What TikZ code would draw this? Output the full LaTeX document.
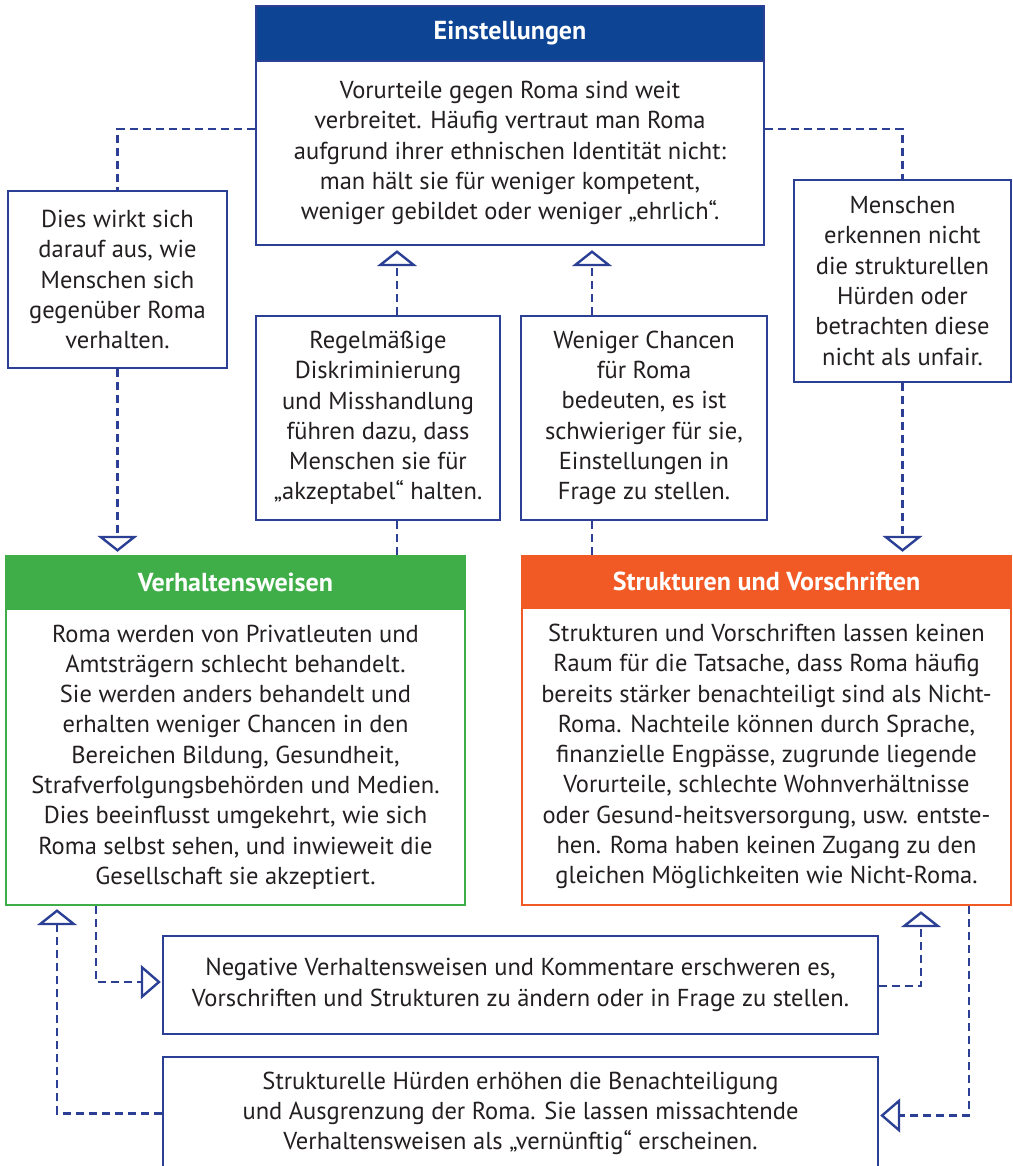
\documentclass[tikz,border=0pt]{standalone}
\usepackage{fontspec}
\setmainfont{PT Sans}
\usetikzlibrary{arrows.meta}
\definecolor{txt}{HTML}{231F20}
\definecolor{lblue}{HTML}{2B3F94}
\definecolor{hblue}{HTML}{0D4594}
\definecolor{hgreen}{HTML}{3FAE49}
\definecolor{horange}{HTML}{F15A24}
\tikzset{
  box/.style={draw=lblue, line width=2.4pt, fill=white, inner sep=0pt, align=center, text=txt,
    font=\fontsize{24.5}{30.3}\selectfont},
  head/.style={inner sep=0pt, align=center, text=white, font=\fontsize{26}{30}\selectfont\bfseries},
  conn/.style={draw=lblue, line width=2.5pt, dash pattern=on 8pt off 5pt},
  tipv/.style={-{Triangle[open, width=40pt, length=16pt, line width=2.4pt]}},
  tiph/.style={-{Triangle[open, width=34pt, length=20pt, line width=2.4pt]}},
}
\begin{document}
\begin{tikzpicture}[x=1pt,y=-1pt]
\useasboundingbox (0,0) rectangle (1012,1166);
\fill[white] (0,0) rectangle (1012,1166);

% Einstellungen
\node[box, minimum width=508pt, minimum height=184pt] (Ebody) at (510,153)
  {Vorurteile gegen Roma sind weit\\ verbreitet. Häufig vertraut man Roma\\ aufgrund ihrer ethnischen Identität nicht:\\ man hält sie für weniger kompetent,\\ weniger gebildet oder weniger „ehrlich“.};
\node[head, fill=hblue, draw=lblue, line width=2.4pt, minimum width=508pt, minimum height=55pt] (Ehead) at (510,33.5) {Einstellungen};

% side boxes
\node[box, minimum width=219pt, minimum height=177pt] (L1) at (117.5,279.5)
  {Dies wirkt sich\\ darauf aus, wie\\ Menschen sich\\ gegenüber Roma\\ verhalten.};
\node[box, minimum width=217pt, minimum height=202pt] (R1) at (902.5,281)
  {Menschen\\ erkennen nicht\\ die strukturellen\\ Hürden oder\\ betrachten diese\\ nicht als unfair.};

% middle boxes
\node[box, minimum width=244pt, minimum height=204pt] (M1) at (378,418)
  {Regelmäßige\\ Diskriminierung\\ und Misshandlung\\ führen dazu, dass\\ Menschen sie für\\ „akzeptabel“ halten.};
\node[box, minimum width=246pt, minimum height=204pt] (M2) at (644,418)
  {Weniger Chancen\\ für Roma\\ bedeuten, es ist\\ schwieriger für sie,\\ Einstellungen in\\ Frage zu stellen.};

% Verhaltensweisen
\node[box, draw=hgreen, minimum width=459pt, minimum height=296pt] (Gbody) at (235.5,757)
  {Roma werden von Privatleuten und\\ Amtsträgern schlecht behandelt.\\ Sie werden anders behandelt und\\ erhalten weniger Chancen in den\\ Bereichen Bildung, Gesundheit,\\ Strafverfolgungsbehörden und Medien.\\ Dies beeinflusst umgekehrt, wie sich\\ Roma selbst sehen, und inwieweit die\\ Gesellschaft sie akzeptiert.};
\node[head, fill=hgreen, minimum width=461pt, minimum height=54pt] (Ghead) at (235.5,582) {Verhaltensweisen};

% Strukturen und Vorschriften
\node[box, draw=horange, minimum width=489pt, minimum height=297pt] (Obody) at (766.5,756.5)
  {Strukturen und Vorschriften lassen keinen\\ Raum für die Tatsache, dass Roma häufig\\ bereits stärker benachteiligt sind als Nicht-\\ Roma. Nachteile können durch Sprache,\\ finanzielle Engpässe, zugrunde liegende\\ Vorurteile, schlechte Wohnverhältnisse\\ oder Gesund-heitsversorgung, usw. entste-\\ hen. Roma haben keinen Zugang zu den\\ gleichen Möglichkeiten wie Nicht-Roma.};
\node[head, fill=horange, minimum width=491pt, minimum height=53pt] (Ohead) at (766.5,581.5) {Strukturen und Vorschriften};

% bottom boxes
\node[box, minimum width=715pt, minimum height=98pt] (Neg) at (520.5,985)
  {Negative Verhaltensweisen und Kommentare erschweren es,\\ Vorschriften und Strukturen zu ändern oder in Frage zu stellen.};
\node[box, minimum width=715pt, minimum height=113pt] (Str) at (520.5,1113.5)
  {Strukturelle Hürden erhöhen die Benachteiligung\\ und Ausgrenzung der Roma. Sie lassen missachtende\\ Verhaltensweisen als „vernünftig“ erscheinen.};

% connector x positions
\coordinate (m1x) at (397,0);
\coordinate (m2x) at (592,0);
\coordinate (g1x) at (96,0);
\coordinate (g2x) at (57,0);
\coordinate (o1x) at (921,0);
\coordinate (o2x) at (969,0);

% connectors
\draw[conn] ([yshift=24pt]Ebody.west) -| (L1.north);
\draw[conn, tipv, shorten >=3pt] (L1.south) -- (L1.south |- Ghead.north);
\draw[conn] ([yshift=24pt]Ebody.east) -| (R1.north);
\draw[conn, tipv, shorten >=3pt] (R1.south) -- (R1.south |- Ohead.north);

\draw[conn] (Ghead.north -| m1x) -- (M1.south -| m1x);
\draw[conn, tipv, shorten >=4pt] (M1.north -| m1x) -- (Ebody.south -| m1x);
\draw[conn] (Ohead.north -| m2x) -- (M2.south -| m2x);
\draw[conn, tipv, shorten >=4pt] (M2.north -| m2x) -- (Ebody.south -| m2x);

\draw[conn, tiph, shorten >=1pt] (Gbody.south -| g1x) |- ([yshift=3pt]Neg.west);
\draw[conn, tipv, shorten >=3pt] (Str.west) -| (Gbody.south -| g2x);
\draw[conn, tipv, shorten >=5pt] ([yshift=-1pt]Neg.east) -| (Obody.south -| o1x);
\draw[conn, tiph, shorten >=1pt] (Obody.south -| o2x) |- ([yshift=-2pt]Str.east);
\end{tikzpicture}
\end{document}
